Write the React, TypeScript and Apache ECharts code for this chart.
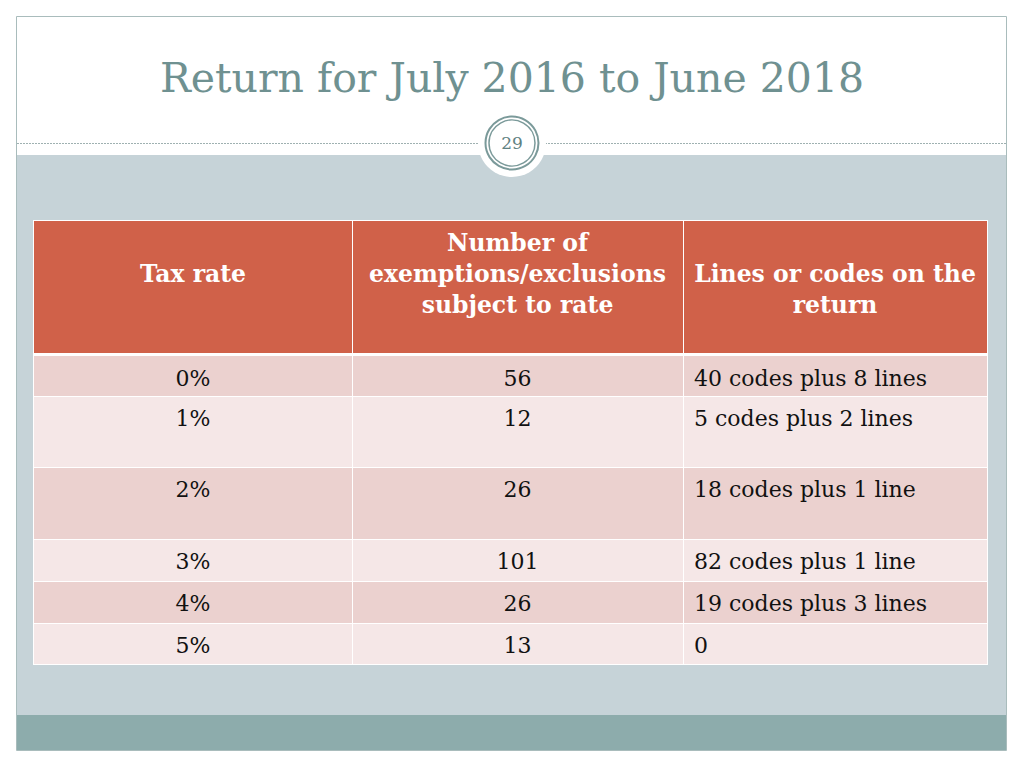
import React, { useEffect, useRef } from "react";
import * as echarts from "echarts";

const titleText = "Return for July 2016 to June 2018";
const pageNumber = "29";
const headerLines = [
  ["Tax rate"],
  ["Number of", "exemptions/exclusions", "subject to rate"],
  ["Lines or codes on the", "return"],
];
const taxRates = ["0%", "1%", "2%", "3%", "4%", "5%"];
const exemptionCounts = [56, 12, 26, 101, 26, 13];
const returnLines = [
  "40 codes plus 8 lines",
  "5 codes plus 2 lines",
  "18 codes plus 1 line",
  "82 codes plus 1 line",
  "19 codes plus 3 lines",
  "0",
];

// layout (pixels)
const colX = [34, 352, 683, 987];
const headerTop = 221;
const headerBottom = 353;
const headerLineY = [243, 274, 305];
const headerStartLine = [1, 0, 1];
const rowEdges = [356, 396, 467, 539, 581, 623, 664];
const FONT = "DejaVu Serif";
const BODY_SIZE = 22;
const HEAD_SIZE = 23.5;

export default function App() {
  const ref = useRef<HTMLDivElement>(null);
  useEffect(() => {
    if (!ref.current) return;
    const chart = echarts.init(ref.current, undefined, { renderer: "svg" });
    const els: any[] = [];
    // slide frame
    els.push({ type: "rect", shape: { x: 16.5, y: 16.5, width: 990, height: 734 }, style: { fill: "#ffffff", stroke: "#a9bcbc", lineWidth: 1 } });
    els.push({ type: "rect", shape: { x: 17, y: 155, width: 989, height: 560 }, style: { fill: "#c6d3d8" } });
    els.push({ type: "rect", shape: { x: 17, y: 715, width: 989, height: 35 }, style: { fill: "#8dacac" } });
    els.push({ type: "line", shape: { x1: 17, y1: 143.5, x2: 1006, y2: 143.5 }, style: { stroke: "#9fb1b1", lineWidth: 1, lineDash: [2, 1] } });
    // title
    els.push({ type: "text", x: 512, y: 78, style: { text: titleText, fill: "#6f9191", font: `41px '${FONT}'`, textAlign: "center", textVerticalAlign: "middle" } });
    // page number badge
    els.push({ type: "circle", shape: { cx: 512, cy: 143, r: 34 }, style: { fill: "#ffffff" } });
    els.push({ type: "circle", shape: { cx: 512, cy: 143, r: 26.5 }, style: { fill: "none", stroke: "#7b9a9a", lineWidth: 2 } });
    els.push({ type: "circle", shape: { cx: 512, cy: 143, r: 23 }, style: { fill: "none", stroke: "#7b9a9a", lineWidth: 1.5 } });
    els.push({ type: "text", x: 512, y: 143, style: { text: pageNumber, fill: "#5f8282", font: `17px '${FONT}'`, textAlign: "center", textVerticalAlign: "middle" } });
    // table background (white grid lines)
    els.push({ type: "rect", shape: { x: colX[0] - 1, y: headerTop - 1, width: colX[3] - colX[0] + 2, height: rowEdges[6] - headerTop + 2 }, style: { fill: "#ffffff" } });
    // header cells
    for (let c = 0; c < 3; c++) {
      els.push({ type: "rect", shape: { x: colX[c] + (c ? 1 : 0), y: headerTop, width: colX[c + 1] - colX[c] - (c ? 1 : 0), height: headerBottom - headerTop }, style: { fill: "#d06149" } });
      headerLines[c].forEach((t, i) => {
        els.push({ type: "text", x: (colX[c] + colX[c + 1]) / 2, y: headerLineY[headerStartLine[c] + i], style: { text: t, fill: "#ffffff", font: `bold ${HEAD_SIZE}px '${FONT}'`, textAlign: "center", textVerticalAlign: "middle" } });
      });
    }
    // body rows
    for (let r = 0; r < taxRates.length; r++) {
      const top = rowEdges[r] + (r ? 1 : 0);
      const bottom = rowEdges[r + 1];
      const fill = r % 2 === 0 ? "#ebd1cf" : "#f5e7e7";
      const texts = [taxRates[r], String(exemptionCounts[r]), returnLines[r]];
      for (let c = 0; c < 3; c++) {
        els.push({ type: "rect", shape: { x: colX[c] + (c ? 1 : 0), y: top, width: colX[c + 1] - colX[c] - (c ? 1 : 0), height: bottom - top }, style: { fill } });
        const ty = rowEdges[r] + 22;
        if (c < 2) {
          els.push({ type: "text", x: (colX[c] + colX[c + 1]) / 2, y: ty, style: { text: texts[c], fill: "#111111", font: `${BODY_SIZE}px '${FONT}'`, textAlign: "center", textVerticalAlign: "middle" } });
        } else {
          els.push({ type: "text", x: colX[2] + 11, y: ty, style: { text: texts[c], fill: "#111111", font: `${BODY_SIZE}px '${FONT}'`, textAlign: "left", textVerticalAlign: "middle" } });
        }
      }
    }
    chart.setOption({ animation: false, graphic: { elements: els } });
    return () => chart.dispose();
  }, []);
  return <div ref={ref} style={{ position: "fixed", left: 0, top: 0, width: 1024, height: 768, background: "#ffffff" }} />;
}
